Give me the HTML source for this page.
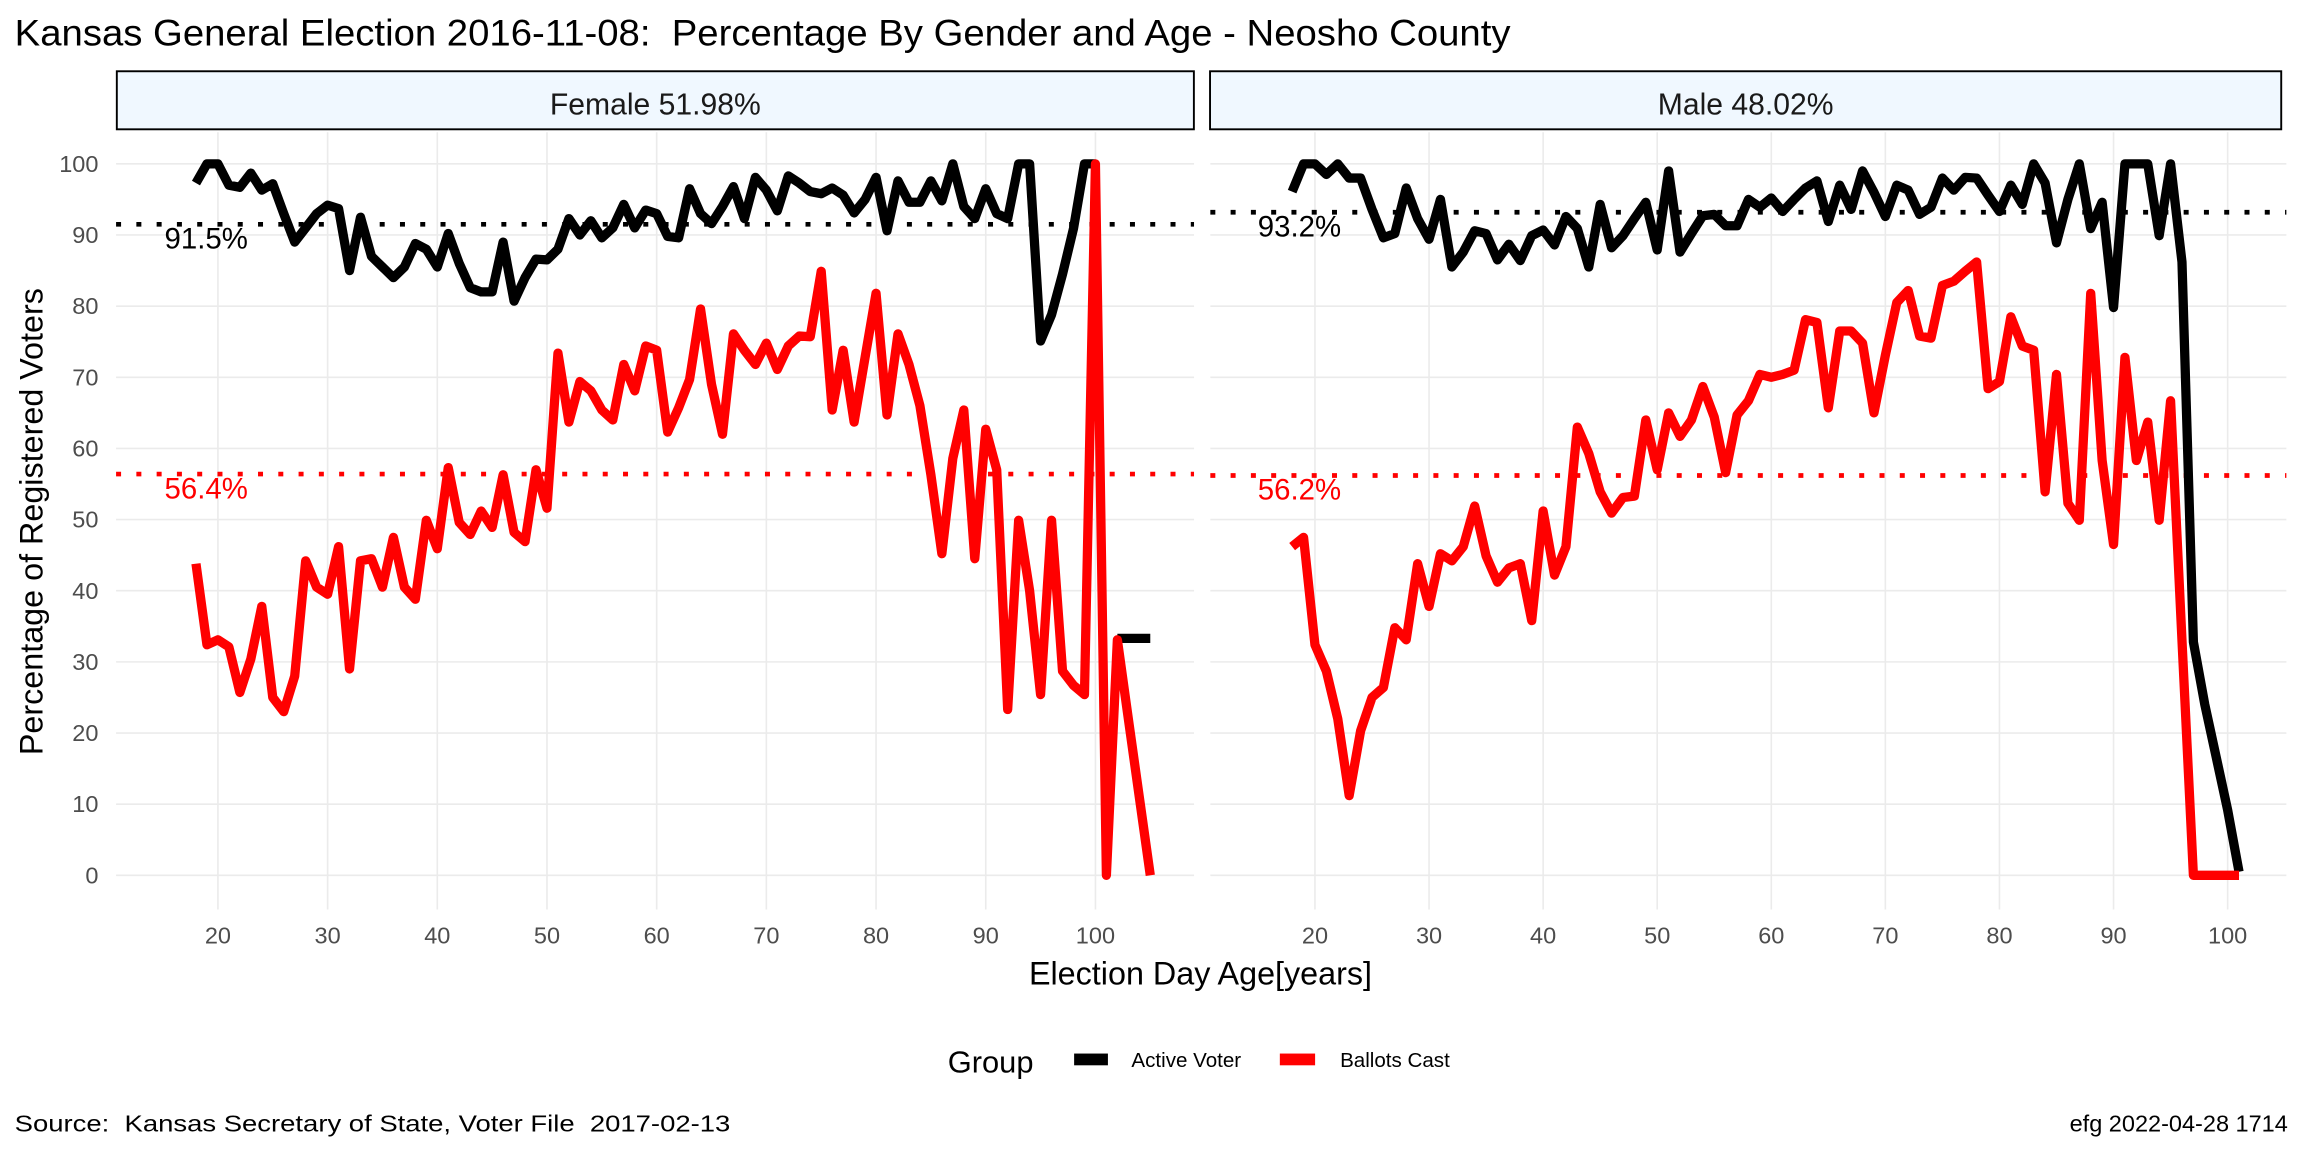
<!DOCTYPE html>
<html><head><meta charset="utf-8"><style>
html,body{margin:0;padding:0;background:#fff;}
svg{display:block;font-family:"Liberation Sans",sans-serif;}
svg text{white-space:pre;}
</style></head><body>
<svg id="chart" width="2304" height="1152" viewBox="0 0 1568 784" xmlns="http://www.w3.org/2000/svg" xml:space="preserve">
<rect x="0" y="0" width="1568" height="784" fill="#fff"/>
<text x="10" y="31" font-size="25.5" fill="#000" textLength="1018" lengthAdjust="spacingAndGlyphs">Kansas General Election 2016-11-08:  Percentage By Gender and Age - Neosho County</text>
<g id="strips">
<rect x="79.5" y="48.5" width="733" height="39.5" fill="#f0f8ff" stroke="#000" stroke-width="1.3"/>
<text x="446" y="78" font-size="20.5" text-anchor="middle" fill="#1a1a1a">Female 51.98%</text>
<rect x="823.5" y="48.5" width="729" height="39.5" fill="#f0f8ff" stroke="#000" stroke-width="1.3"/>
<text x="1188" y="78" font-size="20.5" text-anchor="middle" fill="#1a1a1a">Male 48.02%</text>
</g>
<g id="plot"></g>
<text x="817" y="670" font-size="22" text-anchor="middle" fill="#000">Election Day Age[years]</text>
<text transform="translate(29,355) rotate(-90)" font-size="22" text-anchor="middle" fill="#000">Percentage of Registered Voters</text>
<g>
<text x="645" y="730" font-size="21" fill="#000">Group</text>
<rect x="731" y="717" width="23" height="8" fill="#000"/>
<text x="770" y="726" font-size="14" fill="#000">Active Voter</text>
<rect x="871" y="717" width="24" height="8" fill="#ff0000"/>
<text x="912" y="726" font-size="14" fill="#000">Ballots Cast</text>
</g>
<text x="10" y="770" font-size="16" fill="#000" textLength="487" lengthAdjust="spacingAndGlyphs">Source:  Kansas Secretary of State, Voter File  2017-02-13</text>
<text x="1557" y="770" font-size="16" fill="#000" text-anchor="end">efg 2022-04-28 1714</text>
</svg>
<script>
const femaleStart = 18;
const femaleActive = [97.3,100,100,97,96.7,98.7,96.3,97.2,93,89,91,93,94.2,93.7,85,92.5,87,85.5,84,85.5,88.8,88,85.5,90.2,86,82.6,82,82,89,80.7,84,86.6,86.5,88,92.3,90,92,89.6,91,94.3,91,93.5,93,89.8,89.6,96.5,93,91.6,94,96.8,92.3,98.1,96.3,93.4,98.3,97.3,96.1,95.8,96.6,95.6,93.1,95,98.1,90.6,97.6,94.6,94.6,97.6,94.8,100,94,92.3,96.5,93,92.3,100,100,75.1,78.8,84.5,90.9,100,100,null,33.3,33.3,33.3,33.3];
const femaleBallots = [43.8,32.4,33.1,32.1,25.7,30.4,37.8,25,23,28,44.2,40.5,39.5,46.2,29,44.2,44.5,40.5,47.5,40.5,38.8,49.9,45.9,57.3,49.6,47.9,51.2,48.9,56.3,48.2,46.9,57,51.6,73.4,63.7,69.4,68.1,65.4,64,71.8,68.1,74.4,73.8,62.3,65.7,69.7,79.6,69,62,76.1,73.8,71.8,74.8,71.1,74.4,75.8,75.7,84.9,65.4,73.8,63.7,72.8,81.8,64.7,76.1,71.8,66,56.3,45.2,58.6,65.4,44.5,62.7,57,23.3,49.9,40,25.4,49.9,28.7,26.7,25.4,100,0,33.1,22,11,0];
const maleStart = 18;
const maleActive = [96.1,100,100,98.5,100,98,98,93.6,89.6,90.2,96.6,92.3,89.4,95,85.5,87.6,90.6,90.2,86.5,88.7,86.4,89.9,90.7,88.6,92.6,90.9,85.5,94.3,88.2,89.9,92.3,94.6,87.9,99,87.6,90.2,92.7,92.9,91.3,91.3,95,93.9,95.2,93.3,95,96.6,97.6,91.9,97,93.6,99,96,92.6,97,96.3,92.9,93.9,98,96.3,98.1,98,95.6,93.3,97,94.3,100,97.3,88.9,95,100,90.9,94.6,79.8,100,100,100,89.9,100,86.2,32.8,24,16.6,9.2,0.5];
const maleBallots = [46.2,47.5,32.4,28.7,22,11.2,20.3,25,26.4,34.8,33.1,43.8,37.8,45.2,44.2,46.2,51.9,44.9,41.2,43.2,43.8,35.8,51.2,42.2,46.2,63,59.3,53.9,50.9,53.1,53.3,64,57,65,61.7,64,68.7,64.4,56.6,64.7,66.7,70.4,70,70.4,71,78.1,77.7,65.7,76.5,76.5,74.8,65,73.1,80.5,82.2,75.8,75.5,82.9,83.5,84.9,86.2,68.4,69.4,78.5,74.4,73.8,53.9,70.4,52.3,49.9,81.8,58.3,46.5,72.8,58.3,63.7,49.9,66.7,33,0,0,0,0,0];
const femaleMeans = [91.5, 56.4];
const maleMeans = [93.2, 56.2];
const meanLabels = ["91.5%","56.4%","93.2%","56.2%"];
const yTicks = [0,10,20,30,40,50,60,70,80,90,100];
const xTicks = [20,30,40,50,60,70,80,90,100];

const NS = "http://www.w3.org/2000/svg";
const plot = document.getElementById('plot');
function yScale(v){ return 595.7 - v*4.842; }
const panels = [
  {name:'female', x0:79, x1:812.6, ax:148.3, k:7.465, start:femaleStart, active:femaleActive, ballots:femaleBallots, means:femaleMeans, labels:[meanLabels[0],meanLabels[1]], lx:112},
  {name:'male', x0:823.7, x1:1556, ax:894.9, k:7.764, start:maleStart, active:maleActive, ballots:maleBallots, means:maleMeans, labels:[meanLabels[2],meanLabels[3]], lx:856}
];
function mk(tag, attrs){ const e=document.createElementNS(NS,tag); for(const k in attrs) e.setAttribute(k, attrs[k]); return e; }
function pathFor(p, arr){
  let d='', pen=false;
  arr.forEach((v,i)=>{
    if(v===null||v===undefined){ pen=false; return; }
    const x=(p.ax+(p.start+i-20)*p.k).toFixed(2), y=yScale(v).toFixed(2);
    d += (pen?'L':'M')+x+' '+y+' '; pen=true;
  });
  return d;
}
panels.forEach((p,pi)=>{
  const g = mk('g',{});
  
  
  plot.appendChild(g);
  yTicks.forEach(t=>{
    const l = mk('line',{x1:p.x0,x2:p.x1,y1:yScale(t),y2:yScale(t),stroke:'#ebebeb','stroke-width':1.1});
    
    
    g.appendChild(l);
    if(pi===0){
      const tx = mk('text',{x:67,y:yScale(t)+5.5,'font-size':16,'text-anchor':'end',fill:'#4d4d4d'});
      
      
      tx.textContent = t; g.appendChild(tx);
    }
  });
  xTicks.forEach(t=>{
    const x = p.ax+(t-20)*p.k;
    if(x>p.x1) return;
    const l = mk('line',{x1:x,x2:x,y1:90,y2:619,stroke:'#ebebeb','stroke-width':1.1});
    
    
    g.appendChild(l);
    const tx = mk('text',{x:x,y:642,'font-size':16,'text-anchor':'middle',fill:'#4d4d4d'});
    
    
    tx.textContent = t; g.appendChild(tx);
  });
  const cols = ['#000','#ff0000'];
  p.means.forEach((m,mi)=>{
    const l = mk('line',{x1:p.x0,x2:p.x1,y1:yScale(m),y2:yScale(m),stroke:cols[mi],'stroke-width':3.2,'stroke-dasharray':'3.4 10.4'});
    
    
    g.appendChild(l);
    const tx = mk('text',{x:p.lx,y:yScale(m)+16.5,'font-size':20,fill:cols[mi]});
    
    
    tx.textContent = p.labels[mi]; g.appendChild(tx);
  });
  const a = mk('path',{d:pathFor(p,p.active),fill:'none',stroke:'#000','stroke-width':6.3,'stroke-linejoin':'round'});
  
  
  g.appendChild(a);
  const b = mk('path',{d:pathFor(p,p.ballots),fill:'none',stroke:'#ff0000','stroke-width':6.3,'stroke-linejoin':'round'});
  
  
  g.appendChild(b);
});
</script>
</body></html>
